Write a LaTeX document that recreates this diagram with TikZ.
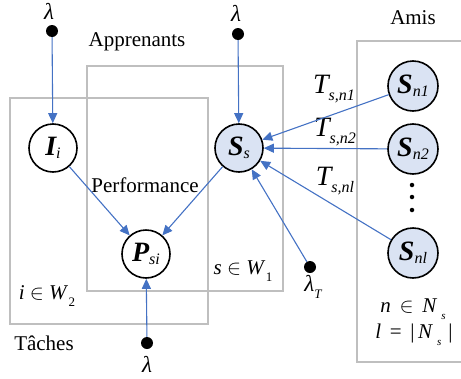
\documentclass[tikz,border=0pt]{standalone}
\usepackage{fix-cm}
\usepackage{fontspec}
\setmainfont{Liberation Serif}
\usetikzlibrary{arrows.meta}
\definecolor{arrowblue}{HTML}{4472C4}
\definecolor{nodefill}{HTML}{DAE3F3}
\definecolor{boxgray}{HTML}{BFBFBF}
\newcommand{\fs}[1]{\fontsize{#1}{#1}\selectfont}
\newcommand{\mysub}[1]{\raisebox{-0.3em}{\fs{16}\itshape #1}}
\newcommand{\bigsym}[1]{{\fs{28}\bfseries\itshape #1}}
\begin{document}
\begin{tikzpicture}[x=1pt,y=-1pt,
  plainnode/.style={circle,draw=black,line width=1.6pt,minimum size=48pt,inner sep=0pt,fill=white},
  snode/.style={plainnode,fill=nodefill},
  dotnode/.style={circle,fill=black,minimum size=12pt,inner sep=0pt},
  plate/.style={draw=boxgray,line width=2.2pt},
  link/.style={draw=arrowblue,line width=1.1pt,-{Triangle[length=10pt,width=9pt]}},
  lbl/.style={inner sep=0pt,font=\fs{21}}]
\useasboundingbox (0,0) rectangle (461,378);
% plates
\draw[plate] (10,98) rectangle (208,324);
\draw[plate] (87,66) rectangle (283,291);
\draw[plate] (470,41) -- (357,41) -- (357,362) -- (470,362);
% plate labels
\node[lbl] (tapp) at (137,42) {Apprenants};
\node[lbl] (tamis) at (413,18) {Amis};
\node[lbl] (ttache) at (44,343) {Tâches};
\node[lbl] (tperf) at (145,185) {Performance};
\node[lbl] (tw2) at (47,296) {{\itshape i} $\in$ {\itshape W}\raisebox{-0.35em}{\fs{13}\,2}};
\node[lbl] (tw1) at (243,271) {{\itshape s} $\in$ {\itshape W}\raisebox{-0.35em}{\fs{13}\,1}};
\node[lbl] (tns) at (413,309) {{\itshape n}\, $\in$\, {\itshape N}\raisebox{-0.35em}{\fs{11}\itshape\hspace{5pt}s}};
\node[lbl] (tl) at (414,335) {{\itshape l}\, =\, |\,{\itshape N}\raisebox{-0.35em}{\fs{11}\itshape\hspace{5pt}s}\,\,|};
% nodes
\node[plainnode] (I) at (53,148) {\bigsym{I}\mysub{i}};
\node[snode] (S) at (239,148) {\bigsym{S}\mysub{s}};
\node[plainnode] (P) at (146,254) {\bigsym{P}\mysub{si}};
\node[snode,minimum size=50pt] (S1) at (413,86) {\bigsym{S}\mysub{n1}};
\node[snode,minimum size=50pt] (S2) at (413,149) {\bigsym{S}\mysub{n2}};
\node[snode,minimum size=50pt] (Sl) at (413,253) {\bigsym{S}\mysub{nl}};
% vertical dots
\node[circle,fill=black,minimum size=4.5pt,inner sep=0pt] (d1) at (412,185) {};
\node[circle,fill=black,minimum size=4.5pt,inner sep=0pt] (d2) at (412,197) {};
\node[circle,fill=black,minimum size=4.5pt,inner sep=0pt] (d3) at (412,210) {};
% hyperparameter dots
\node[dotnode] (l1) at (52,31) {};
\node[lbl] (l1t) at (49,11) {\fs{23}\itshape λ};
\node[dotnode] (l2) at (238,34) {};
\node[lbl] (l2t) at (236,13) {\fs{23}\itshape λ};
\node[dotnode] (l3) at (147,343) {};
\node[lbl] (l3t) at (147,364) {\fs{23}\itshape λ};
\node[dotnode] (lT) at (310,267) {};
\node[lbl] (lTt) at (313,287) {\fs{23}\itshape λ\raisebox{-0.3em}{\fs{13}T}};
% T labels
\node[lbl] (T1) at (334,89) {{\fs{28}\itshape T}\mysub{s,n1}};
\node[lbl] (T2) at (335,132) {{\fs{28}\itshape T}\mysub{s,n2}};
\node[lbl] (Tl) at (335,181) {{\fs{28}\itshape T}\mysub{s,nl}};
% connectors
\draw[link] (l1) -- (I);
\draw[link] (l2) -- (S);
\draw[link] (I) -- (P);
\draw[link] (S) -- (P);
\draw[link] (l3) -- (P);
\draw[link] (lT) -- (S);
\draw[link] (S1) -- (S);
\draw[link] (S2) -- (S);
\draw[link] (Sl) -- (S);
\end{tikzpicture}
\end{document}
